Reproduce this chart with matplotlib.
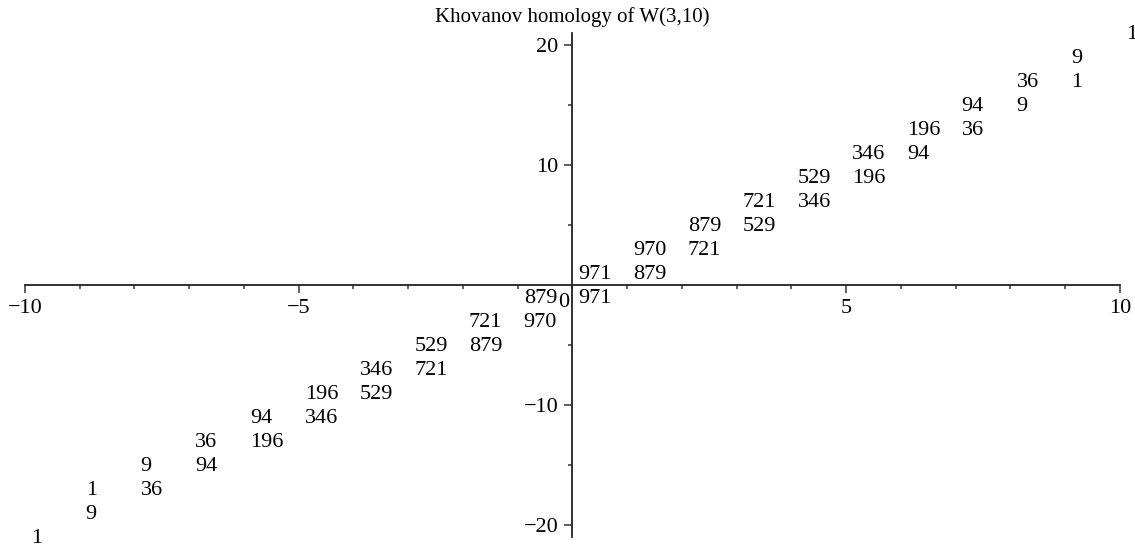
import matplotlib
matplotlib.use('Agg')
from matplotlib import pyplot as plt

# homological degree, quantum degree, rank
hdeg = [-10, -9, -9, -8, -8, -7, -7, -6, -6, -5, -5, -4, -4, -3, -3, -2, -2, -1, -1,
        0, 0, 1, 1, 2, 2, 3, 3, 4, 4, 5, 5, 6, 6, 7, 7, 8, 8, 9, 9, 10]
qdeg = [-21, -19, -17, -17, -15, -15, -13, -13, -11, -11, -9, -9, -7, -7, -5, -5, -3, -3, -1,
        -1, 1, 1, 3, 3, 5, 5, 7, 7, 9, 9, 11, 11, 13, 13, 15, 15, 17, 17, 19, 21]
rank = [1, 9, 1, 36, 9, 94, 36, 196, 94, 346, 196, 529, 346, 721, 529, 879, 721, 970, 879,
        971, 971, 879, 970, 721, 879, 529, 721, 346, 529, 196, 346, 94, 196, 36, 94, 9, 36, 1, 9, 1]

xticks = [-10, -5, 5, 10]
yticks = [-20, -10, 10, 20]

plt.rcParams['font.family'] = ['Liberation Serif', 'DejaVu Serif']
plt.rcParams['font.size'] = 16

fig = plt.figure(figsize=(11.35, 5.5), dpi=100)
ax = fig.add_axes([25 / 1135, 13 / 550, 1095 / 1135, 504 / 550])

for x, y, r in zip(hdeg, qdeg, rank):
    ax.annotate(str(r), (x, y), xytext=(4.3, -1), textcoords='offset points',
                ha='left', va='center', annotation_clip=False)

ax.set_xlim(-10, 10)
ax.set_ylim(-21, 21)

ax.spines['left'].set_position(('data', 0))
ax.spines['bottom'].set_position(('data', 0))
ax.spines['top'].set_visible(False)
ax.spines['right'].set_visible(False)
for s in ('left', 'bottom'):
    ax.spines[s].set_linewidth(1.3)
    ax.spines[s].set_color('#222222')

ax.set_xticks(xticks)
ax.set_xticks(range(-10, 11), minor=True)
ax.set_yticks(yticks)
ax.set_yticks([-15, -5, 5, 15], minor=True)
ax.tick_params(which='major', length=6, width=1.2, color='#444444', pad=4)
ax.tick_params(which='minor', length=3, width=1.2, color='#444444')
ax.annotate('0', (0, 0), xytext=(-2, -6), textcoords='offset points', ha='right', va='top')

ax.set_title('Khovanov homology of W(3,10)', fontsize=15, pad=8)

fig.savefig('out.png')
